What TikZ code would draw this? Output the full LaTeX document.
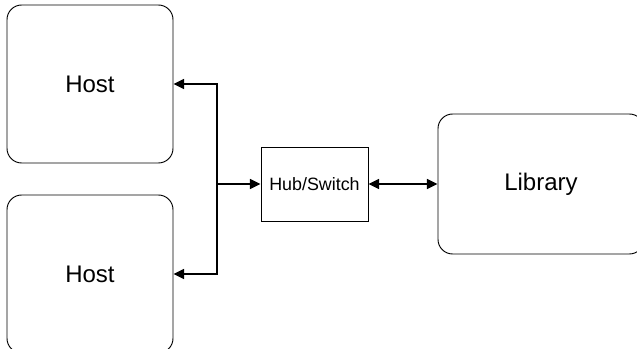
\documentclass[tikz,border=0pt]{standalone}
\usepackage{fontspec}
\setmainfont{Liberation Sans}
\usetikzlibrary{arrows.meta}
\tikzset{
	hostbox/.style={draw, rounded corners=11pt, line width=0.7pt,
		minimum width=124.5pt, minimum height=118.5pt, font=\fontsize{18}{20}\selectfont},
	hubbox/.style={draw, line width=0.7pt, minimum width=80.25pt, minimum height=55.5pt,
		font=\fontsize{13.4}{15}\selectfont},
	link/.style={line width=1.1pt, -{Triangle[length=8pt,width=7.5pt]}},
}

\begin{document}
\begin{tikzpicture}[x=0.75pt,y=-0.75pt]
	% Fixed canvas, same size as the reference.
	\path[use as bounding box] (0,0) rectangle (637,349);
	\fill[white] (0,0) rectangle (637,349);

	% Hosts on the left, hub in the middle, library on the right.
	\node[hostbox] (host1) at (90,84) {Host};
	\node[hostbox] (host2) at (90,274) {Host};
	\node[hubbox] (hub) at (314.5,184) {Hub/Switch};
	\node[hostbox, minimum width=154.5pt, minimum height=105pt] (lib) at (541,184) {Library};

	% Branch point of the host bus.
	\coordinate (bus) at (217,184);

	\draw[link] (bus) |- (host1.east);
	\draw[link] (bus) |- (host2.east);
	\draw[link] (bus) -- (hub.west);
	\draw[link, {Triangle[length=8pt,width=7.5pt]}-{Triangle[length=8pt,width=7.5pt]}] (hub) -- (lib);
\end{tikzpicture}
\end{document}
